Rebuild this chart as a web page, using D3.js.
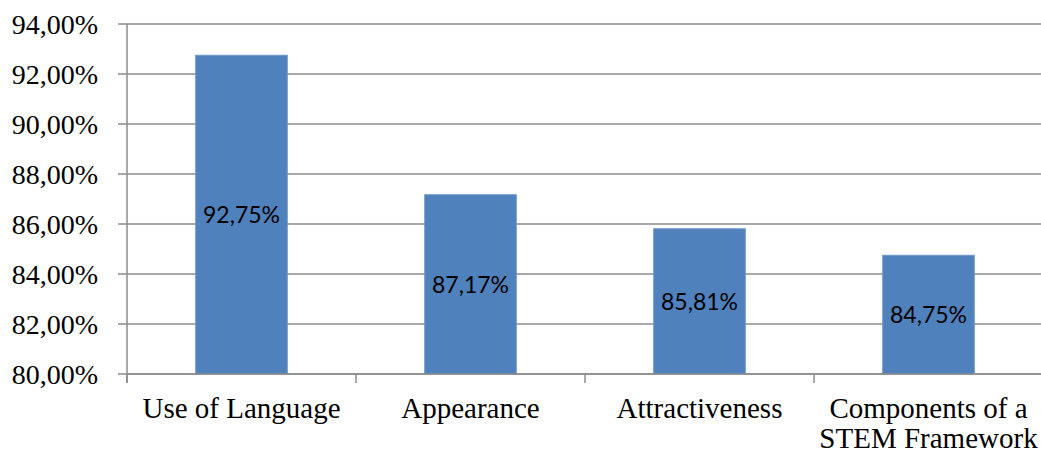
<!DOCTYPE html>
<html><head><meta charset="utf-8">
<script src="https://cdn.jsdelivr.net/npm/d3@7"></script>
<style>body{margin:0;background:#fff;} svg{display:block;}</style>
</head><body>
<svg id="c" width="1041" height="453"></svg>
<script>
const categories = [["Use of Language"], ["Appearance"], ["Attractiveness"], ["Components of a", "STEM Framework"]];
const values = [92.75, 87.17, 85.81, 84.75];
const valueLabels = ["92,75%", "87,17%", "85,81%", "84,75%"];
const yTicks = [80, 82, 84, 86, 88, 90, 92, 94];
const yTickLabels = ["80,00%", "82,00%", "84,00%", "86,00%", "88,00%", "90,00%", "92,00%", "94,00%"];

(function() {
const svg = d3.select("#c");
const pLeft = 127, pRight = 1043, pTop = 24, pBottom = 374;
const x = d3.scaleBand().domain(d3.range(values.length)).range([pLeft, pRight]).paddingInner(0.6).paddingOuter(0.3);
const y = d3.scaleLinear().domain([80, 94]).range([pBottom, pTop]);
const grey = "#8c8c8c";

svg.append("g").selectAll("line").data(yTicks).join("line")
  .attr("x1", pLeft - 9).attr("x2", pRight)
  .attr("y1", d => y(d)).attr("y2", d => y(d))
  .attr("stroke", grey).attr("stroke-width", 1.5);

svg.append("g").selectAll("text").data(yTicks).join("text")
  .attr("x", 98).attr("y", d => y(d)).attr("dy", "0.34em")
  .attr("text-anchor", "end")
  .attr("font-family", "Liberation Serif, Times New Roman, serif")
  .attr("font-size", 28).attr("fill", "#000")
  .text((d, i) => yTickLabels[i]);

svg.append("g").selectAll("rect").data(values).join("rect")
  .attr("x", (d, i) => x(i)).attr("width", x.bandwidth())
  .attr("y", d => y(d)).attr("height", d => y(80) - y(d))
  .attr("fill", "#4f81bd").attr("stroke", "#6f97c8").attr("stroke-width", 1);

svg.append("line").attr("x1", pLeft).attr("x2", pLeft).attr("y1", pTop).attr("y2", pBottom + 9)
  .attr("stroke", grey).attr("stroke-width", 1.5);
svg.append("line").attr("x1", pLeft).attr("x2", pRight).attr("y1", pBottom).attr("y2", pBottom)
  .attr("stroke", grey).attr("stroke-width", 1.5);
const step = (pRight - pLeft) / values.length;
svg.append("g").selectAll("line").data(d3.range(values.length + 1)).join("line")
  .attr("x1", i => pLeft + i * step).attr("x2", i => pLeft + i * step)
  .attr("y1", pBottom).attr("y2", pBottom + 9)
  .attr("stroke", grey).attr("stroke-width", 1.5);

svg.append("g").selectAll("text").data(values).join("text")
  .attr("x", (d, i) => x(i) + x.bandwidth() / 2)
  .attr("y", d => (y(d) + y(80)) / 2).attr("dy", "0.36em")
  .attr("text-anchor", "middle")
  .attr("font-family", "Lato, Carlito, Calibri, sans-serif")
  .attr("font-size", 23).attr("fill", "#000")
  .text((d, i) => valueLabels[i]);

const cg = svg.append("g").selectAll("text").data(categories).join("text")
  .attr("x", (d, i) => x(i) + x.bandwidth() / 2)
  .attr("y", 418)
  .attr("text-anchor", "middle")
  .attr("font-family", "Liberation Serif, Times New Roman, serif")
  .attr("font-size", 29).attr("fill", "#000");
cg.selectAll("tspan").data(d => d).join("tspan")
  .attr("x", function() { return this.parentNode.getAttribute("x"); })
  .attr("dy", (d, j) => j === 0 ? 0 : 30)
  .text(d => d);
})();
</script>
</body></html>
